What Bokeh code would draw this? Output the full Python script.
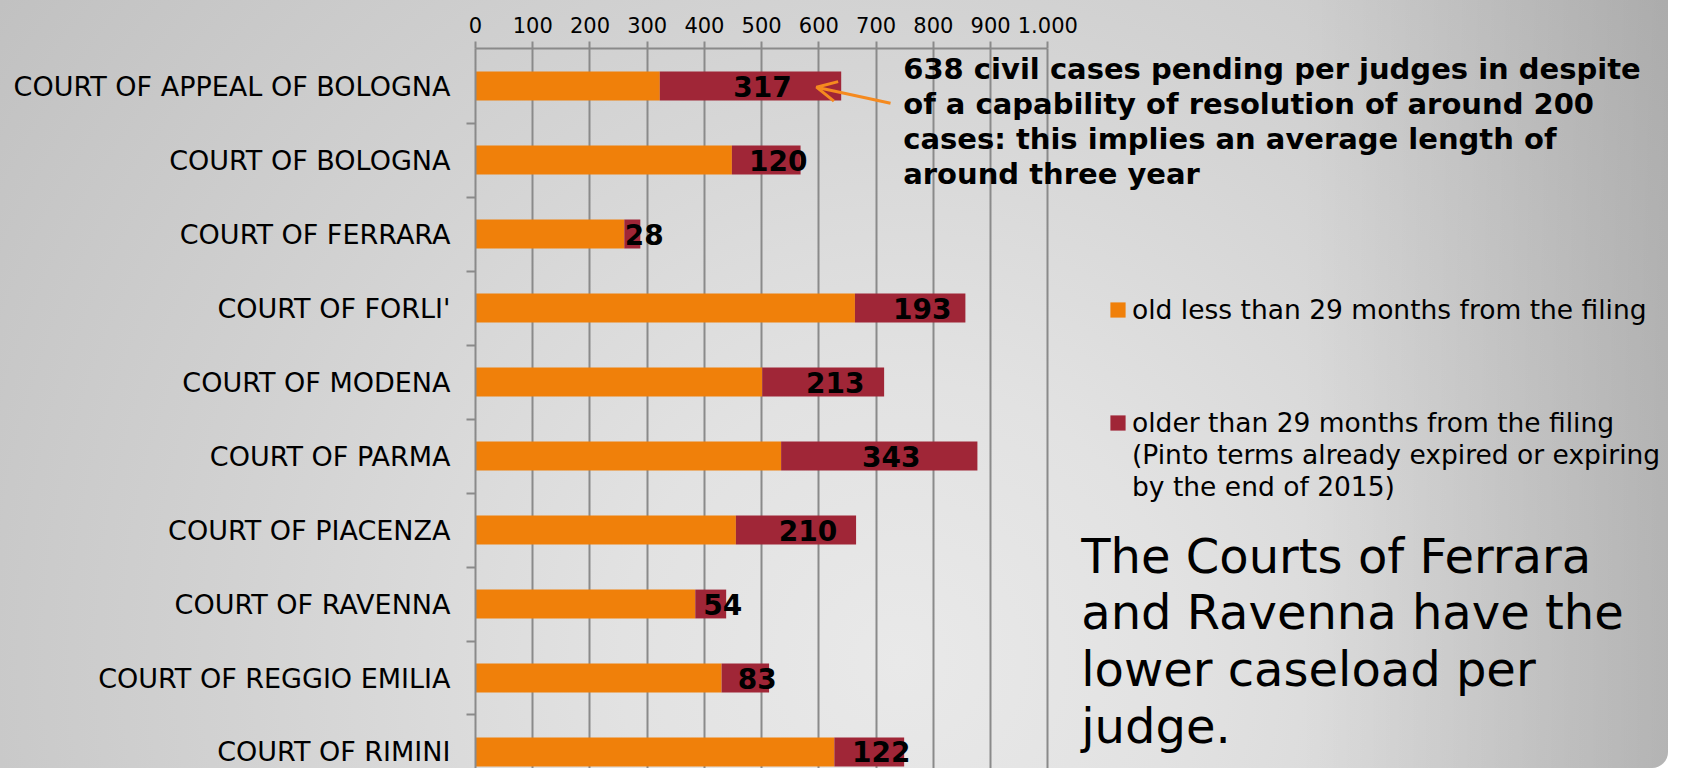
from bokeh.plotting import figure
from bokeh.models import (ColumnDataSource, Range1d, FixedTicker, Legend, LegendItem,
                          Label, Arrow, OpenHead)
from bokeh.embed import file_html
from bokeh.resources import INLINE
from bokeh.core.properties import value

# ---------------- data ----------------
courts = ["COURT OF APPEAL OF BOLOGNA", "COURT OF BOLOGNA", "COURT OF FERRARA",
          "COURT OF FORLI'", "COURT OF MODENA", "COURT OF PARMA", "COURT OF PIACENZA",
          "COURT OF RAVENNA", "COURT OF REGGIO EMILIA", "COURT OF RIMINI"]
recent = [322, 448, 260, 663, 501, 534, 455, 384, 430, 627]   # less than 29 months
old = [317, 120, 28, 193, 213, 343, 210, 54, 83, 122]          # older than 29 months
x_ticks = [0, 100, 200, 300, 400, 500, 600, 700, 800, 900, 1000]
x_tick_labels = ["0", "100", "200", "300", "400", "500", "600", "700", "800", "900", "1.000"]
series_names = ["old less than 29 months from the filing",
                "older than 29 months from the filing\n(Pinto terms already expired or expiring\nby the end of 2015)"]
note_lines = ["638 civil cases pending per judges in despite",
              "of a capability of resolution of around 200",
              "cases: this implies an average length of",
              "around three year"]
big_lines = ["The Courts of Ferrara", "and Ravenna have the", "lower caseload per", "judge."]

ORANGE = "#F0800A"
RED = "#A02637"
GRID = "#8A8A8A"
FONT = "DejaVu Sans"

rows = list(range(len(courts)))
total = [a + b for a, b in zip(recent, old)]
mid = [a + b / 2 for a, b in zip(recent, old)]
src = ColumnDataSource(dict(y=rows, recent=recent, total=total, mid=mid,
                            lab=[str(v) for v in old], court=courts))

W, H = 1668, 768
LEFT, TOP = 475, 48
PX_PER_UNIT = 0.5723
x_end = (W - LEFT) / PX_PER_UNIT

p = figure(width=W, height=H, output_backend="svg", toolbar_location=None,
           x_range=Range1d(0, x_end), y_range=Range1d(9.223, -0.507),
           x_axis_location="above", y_axis_location="left",
           min_border_left=LEFT, min_border_right=0, min_border_top=TOP,
           min_border_bottom=0)
p.background_fill_color = None
p.border_fill_color = None
p.outline_line_color = None
p.styles = {
    "background": ("linear-gradient(to right, rgba(0,0,0,0) 78%, rgba(0,0,0,0.13) 100%), "
                   "radial-gradient(circle at 54% 86%, #e9e9e9 0%, #e2e2e2 25%, "
                   "#d2d2d2 60%, #c1c1c1 100%)"),
    "border-bottom-right-radius": "16px",
}

# x axis (top)
xt = FixedTicker(ticks=x_ticks)
xa = p.xaxis[0]
xa.ticker = xt
xa.bounds = (-15, 1000)
xa.major_label_overrides = {t: l for t, l in zip(x_ticks, x_tick_labels)}
xa.major_tick_out = 7
xa.major_tick_in = 0
xa.minor_tick_out = 0
xa.minor_tick_in = 0
xa.axis_line_color = GRID
xa.axis_line_width = 2
xa.major_tick_line_color = GRID
xa.major_tick_line_width = 2
xa.major_label_text_font = FONT
xa.major_label_text_font_size = "21px"
xa.major_label_text_color = "#000000"
xa.major_label_standoff = 9

p.xgrid.ticker = xt
p.xgrid.grid_line_color = GRID
p.xgrid.grid_line_width = 2
p.ygrid.grid_line_color = None

# y axis (categories)
ya = p.yaxis[0]
ya.ticker = FixedTicker(ticks=rows, minor_ticks=[r + 0.5 for r in rows[:-1]])
ya.major_label_overrides = {r: c for r, c in zip(rows, courts)}
ya.major_tick_out = 0
ya.major_tick_in = 0
ya.minor_tick_out = 9
ya.minor_tick_in = 0
ya.minor_tick_line_color = GRID
ya.minor_tick_line_width = 2
ya.axis_line_color = GRID
ya.axis_line_width = 2
ya.major_label_text_font = FONT
ya.major_label_text_font_size = "27px"
ya.major_label_text_color = "#000000"
ya.major_label_standoff = 16

# bars
r1 = p.hbar(y="y", left=0, right="recent", height=0.39, fill_color=ORANGE,
            line_color=None, source=src)
r2 = p.hbar(y="y", left="recent", right="total", height=0.39, fill_color=RED,
            line_color=None, source=src)

p.text(x="mid", y="y", text="lab", source=src, text_align="center",
       text_baseline="middle", x_offset=12, text_font=value(FONT),
       text_font_style="bold", text_font_size=value("28px"), text_color="#000000")

# legends
leg_style = dict(orientation="vertical", padding=0, margin=0, glyph_width=19,
                 glyph_height=19, label_standoff=5, label_text_font=FONT,
                 label_text_font_size="26.5px", label_text_color="#000000",
                 background_fill_alpha=0, border_line_alpha=0)
legA = Legend(items=[LegendItem(label=series_names[0], renderers=[r1])],
              location=(633, 443), **leg_style)
old_lines = series_names[1].split("\n")
legB = Legend(items=[LegendItem(label=old_lines[0], renderers=[r2])] +
                    [LegendItem(label=t, renderers=[]) for t in old_lines[1:]],
              location=(633, 266), spacing=1, **leg_style)
p.add_layout(legA)
p.add_layout(legB)

# annotation with arrow
for i, line in enumerate(note_lines):
    p.add_layout(Label(x=747.4, y=-0.230 + i * 0.473, text=line, text_font=FONT,
                       text_font_style="bold", text_font_size="29px",
                       text_color="#000000", text_baseline="alphabetic",
                       text_align="left"))
p.add_layout(Arrow(x_start=725.2, y_start=0.232, x_end=595.8, y_end=0.016,
                   line_color="#F58A1F", line_width=3,
                   end=OpenHead(size=20, line_color="#F58A1F", line_width=3)))

for i, line in enumerate(big_lines):
    p.add_layout(Label(x=1058.4, y=6.346 + i * 0.7655, text=line, text_font=FONT,
                       text_font_size="48px", text_color="#000000",
                       text_baseline="alphabetic", text_align="left"))

open("out.html", "w").write(file_html(p, INLINE))
